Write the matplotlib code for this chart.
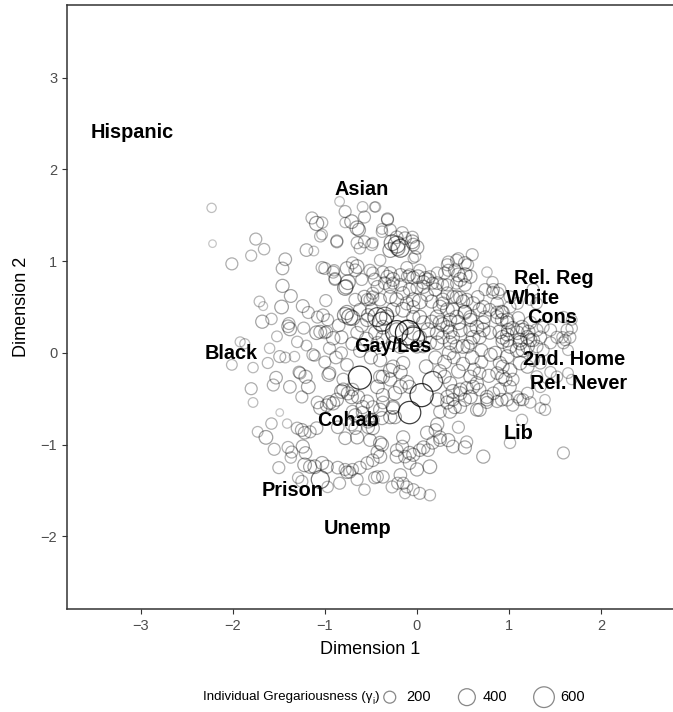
import numpy as np
import matplotlib
matplotlib.use("Agg")
import matplotlib.pyplot as plt

plt.rcParams["font.family"] = ["Liberation Sans", "DejaVu Sans"]

# (dimension 1, dimension 2, individual gregariousness), by region
UPPER_LEFT = [
    (-2.23, 1.58, 120), (-2.22, 1.19, 80), (-1.75, 1.24, 200), (-1.66, 1.13, 180),
    (-1.80, 1.06, 170), (-2.01, 0.97, 200), (-1.14, 1.47, 200), (-1.09, 1.41, 280),
    (-1.05, 1.27, 180), (-0.87, 1.22, 200), (-1.20, 1.12, 220), (-1.12, 1.11, 130),
    (-1.43, 1.02, 220), (-1.46, 0.92, 220), (-1.46, 0.73, 240), (-1.37, 0.62, 230),
    (-1.47, 0.50, 260), (-1.71, 0.56, 160), (-1.67, 0.51, 110), (-1.68, 0.34, 240),
    (-1.58, 0.37, 180), (-1.39, 0.32, 200), (-1.38, 0.26, 250), (-1.40, 0.29, 220),
    (-1.23, 0.27, 200), (-1.24, 0.51, 230), (-1.18, 0.44, 200), (-1.08, 0.39, 200),
    (-1.02, 0.41, 220), (-0.97, 0.36, 200), (-1.05, 0.23, 230), (-1.00, 0.22, 200),
    (-0.99, 0.57, 200), (-1.00, 0.92, 200), (-0.90, 0.90, 180), (-0.89, 0.81, 200),
    (-1.03, 1.42, 180), (-1.03, 1.29, 160), (-0.87, 1.21, 200),
    (-1.92, 0.12, 140), (-1.87, 0.10, 140), (-1.60, 0.05, 150), (-1.52, 0.18, 160),
    (-1.30, 0.12, 180), (-1.20, 0.08, 160),
    (-1.09, 0.22, 260), (-0.98, 0.23, 200), (-0.91, 0.16, 250), (-0.82, 0.17, 230),
]

UPPER_CENTER = [
    (-0.84, 1.65, 130), (-0.59, 1.59, 160), (-0.46, 1.59, 140), (-0.78, 1.54, 200),
    (-0.71, 1.43, 260), (-0.57, 1.48, 200), (-0.78, 1.42, 150), (-0.65, 1.36, 280),
    (-0.63, 1.34, 240), (-0.65, 1.20, 200), (-0.57, 1.21, 200), (-0.49, 1.18, 200),
    (-0.62, 1.14, 180), (-0.38, 1.32, 180), (-0.32, 1.45, 200), (-0.29, 1.34, 200),
    (-0.22, 1.26, 220), (-0.45, 1.59, 150), (-0.32, 1.46, 200), (-0.38, 1.35, 160),
    (-0.27, 1.20, 350), (-0.22, 1.18, 400), (-0.18, 1.14, 450), (-0.29, 1.12, 300),
    (-0.21, 1.14, 300), (-0.13, 1.25, 220), (-0.05, 1.21, 260), (0.00, 1.15, 260),
    (-0.16, 1.31, 200), (-0.05, 1.26, 200), (-0.04, 1.18, 220), (-0.02, 1.05, 180),
    (-0.40, 1.01, 180), (-0.48, 1.20, 160), (-0.04, 1.03, 150),
    (-1.03, 0.93, 200), (-0.91, 0.88, 200), (-0.89, 0.80, 200), (-0.76, 0.92, 250),
    (-0.70, 0.98, 200), (-0.65, 0.94, 260), (-0.67, 0.90, 220),
    (-0.75, 0.77, 300), (-0.78, 0.71, 320), (-0.77, 0.72, 280), (-0.60, 0.80, 200),
    (-0.46, 0.80, 220), (-0.51, 0.90, 200),
    (-0.32, 0.83, 230), (-0.26, 0.80, 260), (-0.29, 0.72, 230), (-0.10, 0.83, 220),
    (0.01, 0.83, 260), (0.07, 0.77, 240), (0.12, 0.80, 220), (0.17, 0.76, 200),
    (0.33, 0.96, 200), (0.30, 0.87, 200),
    (-0.67, 0.58, 220), (-0.57, 0.61, 240), (-0.51, 0.58, 200), (-0.48, 0.61, 200),
    (-0.62, 0.47, 220), (-0.53, 0.41, 240), (-0.49, 0.47, 220), (-0.54, 0.58, 200),
    (-0.78, 0.41, 330), (-0.73, 0.39, 360), (-0.70, 0.38, 300), (-0.76, 0.44, 280),
    (-0.43, 0.39, 500), (-0.54, 0.36, 250), (-0.38, 0.34, 520), (-0.22, 0.23, 700),
    (-0.35, 0.40, 450),
    (-0.11, 0.93, 200), (-0.08, 0.85, 200), (-0.18, 0.85, 220), (-0.29, 0.87, 220),
    (-0.37, 0.88, 200), (-0.48, 0.87, 200),
    (-0.43, 0.72, 220), (-0.35, 0.76, 220), (-0.26, 0.76, 200), (-0.18, 0.74, 220),
    (-0.15, 0.65, 240), (-0.08, 0.69, 220), (-0.29, 0.61, 240), (-0.40, 0.58, 220),
    (-0.48, 0.65, 200), (-0.22, 0.58, 260), (-0.11, 0.54, 240), (-0.04, 0.50, 220),
    (-0.15, 0.47, 300), (-0.26, 0.47, 260), (-0.33, 0.39, 280), (-0.37, 0.28, 260),
    (-0.22, 0.25, 280), (-0.11, 0.28, 300), (-0.04, 0.39, 240), (0.03, 0.39, 260),
    (0.03, 0.90, 200), (-0.04, 0.82, 220), (0.09, 0.82, 200), (0.07, 0.72, 240),
    (0.00, 0.71, 200), (0.11, 0.63, 220), (0.16, 0.56, 240), (0.03, 0.56, 300),
    (-0.04, 0.58, 260),
]

CENTER = [
    (-0.10, 0.22, 850), (-0.04, 0.16, 700), (-0.04, 0.22, 300), (0.03, 0.17, 260),
    (0.07, 0.33, 260), (0.16, 0.34, 240), (0.12, 0.25, 280), (0.22, 0.22, 260),
    (0.28, 0.17, 240), (0.22, 0.11, 260), (0.14, 0.11, 240), (0.07, 0.07, 220),
    (0.00, 0.07, 240), (-0.37, 0.17, 260), (-0.43, 0.11, 220), (-0.26, 0.11, 240),
    (-0.18, 0.07, 260),
    (0.22, 0.87, 200), (0.14, 0.83, 200), (0.22, 0.76, 220), (0.20, 0.69, 240),
    (0.28, 0.74, 200), (0.33, 0.65, 220), (0.28, 0.58, 240), (0.25, 0.50, 260),
    (0.33, 0.47, 260), (0.39, 0.47, 240), (0.22, 0.39, 280), (0.25, 0.33, 260),
    (0.33, 0.28, 240), (0.36, 0.23, 260),
    (0.43, 0.61, 220), (0.50, 0.56, 240), (0.52, 0.44, 260), (0.58, 0.39, 240),
    (0.45, 0.33, 280), (0.47, 0.25, 260), (0.39, 0.17, 240), (0.36, 0.11, 260),
    (0.43, 0.07, 240), (0.50, 0.07, 260), (0.55, 0.07, 240),
    (-0.95, 0.05, 200), (-0.88, -0.05, 220), (-1.00, -0.10, 200), (-0.70, 0.10, 240),
    (-0.62, 0.02, 220), (-0.55, 0.15, 260), (-0.50, -0.05, 240), (-0.65, 0.22, 220),
    (-0.85, 0.30, 220), (-0.60, 0.30, 240), (-0.45, 0.22, 260),
    (0.20, -0.05, 240), (0.30, -0.10, 260), (0.40, -0.05, 220), (0.50, -0.12, 240),
    (0.60, -0.05, 260), (0.70, -0.10, 220), (0.80, -0.02, 240), (0.10, -0.15, 260),
    (0.25, -0.20, 240), (0.45, -0.20, 260), (0.62, -0.18, 220), (0.78, -0.25, 240),
    (0.35, 0.00, 260), (0.70, 0.03, 220), (0.85, 0.00, 240),
]

RIGHT = [
    (0.60, 1.07, 200), (0.52, 0.98, 220), (0.43, 1.01, 200), (0.34, 0.99, 200),
    (0.45, 1.03, 180), (0.55, 0.96, 200), (0.41, 0.90, 220), (0.34, 0.90, 200),
    (0.45, 0.85, 260), (0.52, 0.85, 280), (0.58, 0.83, 240), (0.47, 0.80, 260),
    (0.43, 0.76, 200), (0.33, 0.74, 200), (0.52, 0.74, 220),
    (0.76, 0.88, 150), (0.82, 0.77, 180), (0.74, 0.69, 200), (0.83, 0.69, 200),
    (0.90, 0.69, 200), (0.82, 0.66, 200), (0.88, 0.65, 200),
    (0.66, 0.61, 220), (0.61, 0.54, 240), (0.54, 0.58, 220), (0.47, 0.60, 240),
    (0.39, 0.61, 220), (0.28, 0.54, 220),
    (0.72, 0.50, 240), (0.79, 0.47, 220), (0.87, 0.39, 240), (0.92, 0.45, 220),
    (0.98, 0.36, 240),
    (0.52, 0.45, 240), (0.43, 0.39, 260), (0.36, 0.36, 240), (0.28, 0.31, 260),
    (0.58, 0.36, 240), (0.65, 0.28, 260), (0.72, 0.25, 260), (0.79, 0.22, 240),
    (0.90, 0.23, 260), (0.98, 0.20, 240), (1.04, 0.27, 240), (1.14, 0.28, 260),
    (1.21, 0.23, 240),
    (1.01, 0.61, 200), (1.09, 0.54, 200), (1.01, 0.50, 200), (1.26, 0.69, 200),
    (1.23, 0.58, 180), (1.30, 0.54, 180),
    (0.87, 0.54, 220), (0.87, 0.44, 220), (0.93, 0.44, 240), (0.92, 0.36, 220),
    (0.98, 0.33, 240), (0.99, 0.25, 240), (0.93, 0.17, 260), (0.98, 0.14, 260),
    (0.68, 0.47, 240), (0.74, 0.39, 220), (0.72, 0.33, 240), (0.58, 0.25, 240),
    (0.61, 0.17, 260), (0.68, 0.17, 240), (0.58, 0.11, 240),
    (1.10, 0.38, 220), (1.09, 0.22, 260), (1.12, 0.11, 280), (1.20, 0.07, 260),
    (1.23, 0.33, 220), (1.30, 0.25, 220), (1.37, 0.28, 200), (1.15, 0.25, 240),
    (1.20, 0.17, 260), (1.26, 0.14, 240),
    (1.45, 0.25, 200), (1.52, 0.17, 200), (1.63, 0.25, 200), (1.66, 0.17, 200),
    (1.59, 0.11, 200), (1.59, 0.39, 180), (1.68, 0.36, 160), (1.68, 0.27, 180),
    (1.64, 0.03, 160),
    (0.93, 0.12, 240), (1.01, 0.07, 260), (1.09, 0.03, 280), (1.15, 0.03, 260),
    (1.12, 0.14, 260), (1.23, 0.14, 240), (1.34, 0.17, 220), (1.30, 0.07, 220),
    (1.37, 0.03, 200), (1.45, 0.11, 200), (1.58, 0.17, 180), (1.61, 0.14, 180),
    (1.12, -0.11, 260), (1.20, -0.15, 240), (1.26, -0.08, 220), (1.34, -0.11, 200),
    (1.45, -0.21, 180), (1.52, -0.26, 180), (1.64, -0.22, 160), (1.68, -0.29, 150),
    (0.93, -0.15, 240), (0.87, -0.22, 220), (0.96, -0.29, 240), (1.01, -0.37, 220),
    (0.90, -0.40, 240), (0.83, -0.44, 220), (0.76, -0.48, 240), (0.68, -0.40, 220),
    (0.61, -0.37, 240), (0.58, -0.48, 260), (0.47, -0.44, 240), (0.39, -0.51, 220),
    (0.33, -0.48, 240), (0.47, -0.59, 220), (0.65, -0.62, 220), (0.76, -0.54, 200),
    (0.98, -0.51, 220), (1.04, -0.57, 200), (1.12, -0.51, 200), (1.23, -0.54, 180),
    (1.20, -0.44, 200), (1.34, -0.60, 160), (1.39, -0.51, 150), (1.34, -0.37, 180),
    (1.30, -0.26, 200),
    (0.93, -0.26, 240), (1.01, -0.19, 260), (1.04, -0.29, 220), (0.90, -0.11, 240),
    (0.98, -0.04, 260), (1.09, -0.48, 200), (1.15, -0.51, 200),
]

LOWER = [
    (-0.15, -0.11, 240), (-0.29, -0.19, 260), (-0.40, -0.26, 240), (-0.43, -0.37, 260),
    (-0.29, -0.29, 240), (-0.18, -0.37, 260),
    (0.17, -0.31, 550), (0.05, -0.46, 750), (-0.08, -0.65, 700),
    (-0.37, -0.46, 240), (-0.24, -0.44, 260), (-0.26, -0.59, 260), (-0.29, -0.70, 240),
    (-0.40, -0.62, 240), (-0.48, -0.59, 220), (-0.48, -0.73, 220),
    (0.22, -0.51, 260), (0.33, -0.54, 240), (0.25, -0.64, 220), (0.36, -0.64, 240),
    (0.41, -0.59, 240),
    (0.47, -0.40, 240), (0.54, -0.38, 220), (0.52, -0.51, 240), (0.39, -0.42, 260),
    (0.36, -0.33, 240), (0.30, -0.26, 240),
    (0.58, -0.26, 240), (0.68, -0.22, 220), (0.65, -0.33, 240), (0.76, -0.51, 220),
    (0.87, -0.53, 200), (0.92, -0.51, 220), (0.68, -0.62, 240),
    (1.14, -0.73, 180), (0.45, -0.81, 200), (0.22, -0.78, 240), (0.20, -0.84, 220),
    (0.11, -0.87, 240), (0.25, -0.95, 220), (0.34, -0.95, 240), (0.39, -1.02, 220),
    (0.52, -1.03, 240), (0.54, -0.97, 200),
    (0.72, -1.13, 240), (1.01, -0.98, 180), (1.39, -0.62, 180), (1.59, -1.09, 200),
    (-0.15, -0.92, 240), (-0.22, -1.06, 220), (-0.08, -1.09, 240), (0.03, -1.06, 220),
    (0.07, -1.03, 240), (0.14, -1.24, 260), (0.00, -1.27, 240), (-0.08, -1.20, 220),
    (-0.22, -1.13, 240), (-0.48, -1.17, 220), (-0.40, -1.13, 240),
    (-0.43, -1.35, 200), (-0.37, -1.35, 220), (-0.27, -1.46, 200), (-0.18, -1.33, 220),
    (-0.15, -1.42, 200), (-0.13, -1.53, 160), (-0.04, -1.49, 200), (0.14, -1.55, 180),
    (-0.51, -0.95, 220), (-0.40, -0.98, 240),
    (-0.38, -1.00, 240), (-0.43, -1.08, 220), (-0.13, -1.13, 220), (-0.04, -1.11, 240),
    (-0.16, -1.02, 220), (0.12, -1.06, 220), (0.17, -0.98, 220), (0.25, -0.92, 220),
    (0.03, -1.53, 200), (-0.11, -1.46, 200), (-0.21, -1.42, 200),
    (-0.11, -0.32, 260), (-0.08, -0.37, 240), (-0.26, -0.15, 240), (-0.18, -0.21, 260),
    (-0.40, -0.08, 240), (-0.37, -0.26, 240),
    (-0.26, -0.60, 220), (-0.24, -0.70, 240), (-0.37, -0.54, 220), (-0.38, -0.71, 240),
    (-0.54, -0.53, 240), (-0.59, -0.65, 220), (-0.67, -0.68, 240), (-0.51, -0.73, 220),
    (-0.53, -0.81, 220), (-0.48, -0.82, 240),
]

LOWER_LEFT = [
    (-2.01, -0.13, 160), (-1.78, -0.16, 150), (-1.62, -0.11, 170), (-1.49, -0.04, 200),
    (-1.43, -0.05, 160), (-1.33, -0.04, 150), (-1.11, -0.03, 170), (-1.13, -0.02, 200),
    (-1.80, -0.39, 200), (-1.78, -0.54, 130), (-1.53, -0.27, 220), (-1.56, -0.35, 200),
    (-1.38, -0.37, 220), (-1.28, -0.21, 200), (-1.21, -0.26, 240), (-1.18, -0.37, 260),
    (-1.25, -0.48, 200), (-1.49, -0.65, 80), (-1.08, -0.54, 220), (-1.05, -0.60, 240),
    (-0.95, -0.54, 260), (-0.96, -0.24, 240), (-0.80, -0.29, 220), (-0.82, -0.42, 260),
    (-0.75, -0.44, 240), (-0.71, -0.48, 260), (-0.87, -0.51, 240), (-0.70, -0.64, 220),
    (-0.59, -0.59, 240),
    (-0.62, -0.27, 750), (-0.95, -0.22, 220), (-1.27, -0.22, 200), (-0.98, -0.57, 220),
    (-0.91, -0.55, 240), (-0.80, -0.40, 240), (-0.70, -0.40, 220), (-0.64, -0.48, 240),
    (-0.76, -0.13, 220), (-0.82, 0.00, 200),
    (-1.58, -0.77, 180), (-1.41, -0.77, 120), (-1.73, -0.86, 160), (-1.64, -0.92, 260),
    (-1.55, -1.05, 200), (-1.25, -0.84, 230), (-1.22, -0.87, 220), (-1.09, -0.82, 220),
    (-0.86, -0.81, 220), (-0.67, -0.82, 220), (-0.53, -0.75, 220), (-1.30, -0.82, 200),
    (-1.16, -0.86, 200), (-0.71, -0.78, 220), (-0.65, -0.92, 240), (-0.78, -0.93, 220),
    (-1.40, -1.03, 200), (-1.36, -1.08, 200), (-1.37, -1.14, 180), (-1.50, -1.25, 200),
    (-1.24, -1.02, 240), (-1.21, -1.09, 220),
    (-1.22, -1.22, 260), (-1.16, -1.24, 240), (-1.11, -1.24, 260), (-1.03, -1.20, 240),
    (-0.98, -1.24, 240),
    (-1.29, -1.36, 180), (-1.25, -1.40, 200), (-1.05, -1.38, 450), (-0.97, -1.46, 180),
    (-0.76, -1.30, 220), (-0.70, -1.27, 200), (-0.57, -1.49, 180), (-0.46, -1.36, 200),
    (-0.54, -1.20, 220), (-0.86, -1.25, 220), (-0.78, -1.27, 200), (-0.73, -1.30, 200),
    (-0.62, -1.25, 220), (-0.84, -1.42, 200), (-0.65, -1.38, 200),
]

LABELS = ["Hispanic", "Asian", "Rel. Reg", "White", "Cons", "Black", "Gay/Les",
          "2nd. Home", "Rel. Never", "Lib", "Cohab", "Prison", "Unemp"]
LABEL_X = [-3.09, -0.60, 1.49, 1.26, 1.47, -2.02, -0.26, 1.71, 1.75, 1.10, -0.75, -1.35, -0.64]
LABEL_Y = [2.40, 1.78, 0.81, 0.59, 0.39, -0.01, 0.07, -0.07, -0.33, -0.88, -0.74, -1.50, -1.91]

LEGEND_VALUES = [200, 400, 600]
X_TICKS = [-3, -2, -1, 0, 1, 2]
Y_TICKS = [-2, -1, 0, 1, 2, 3]


def marker_area(g):
    # area of the marker grows with gregariousness (ggplot-like scale_size)
    return 0.37 * np.asarray(g, dtype=float)


def edge_colours(g):
    g = np.asarray(g, dtype=float)
    alpha = np.clip(0.28 + 0.55 * (g - 150) / 650, 0.22, 0.85)
    rgba = np.zeros((len(g), 4))
    rgba[:, 3] = alpha
    return rgba


def minus(t):
    return f"{t}".replace("-", "\u2212")


def legend_title(fig, x0, yc, size):
    # "Individual Gregariousness (γ_i)" with a small subscript i
    renderer = fig.canvas.get_renderer()
    main = fig.text(x0, yc, "Individual Gregariousness (\u03b3", ha="left",
                    va="center", fontsize=size)
    x1 = main.get_window_extent(renderer).x1 / fig.bbox.width
    sub = fig.text(x1, yc - 4 / 712, "i", ha="left", va="center",
                   fontsize=size * 0.7)
    x2 = sub.get_window_extent(renderer).x1 / fig.bbox.width
    fig.text(x2, yc, ")", ha="left", va="center", fontsize=size)


def main():
    pts = np.array(UPPER_LEFT + UPPER_CENTER + CENTER + RIGHT + LOWER + LOWER_LEFT)
    x, y, g = pts[:, 0], pts[:, 1], pts[:, 2]

    fig = plt.figure(figsize=(6.73, 7.12), dpi=100)
    ax = fig.add_axes([67 / 673, 1 - 609 / 712, 606 / 673, 604 / 712])

    ax.scatter(x, y, s=marker_area(g), facecolors="none",
               edgecolors=edge_colours(g), linewidths=0.9)

    for lab, lx, ly in zip(LABELS, LABEL_X, LABEL_Y):
        ax.text(lx, ly, lab, ha="center", va="center", fontsize=14.3,
                fontweight="bold", color="black")

    ax.set_xlim(-3.80, 2.78)
    ax.set_ylim(-2.79, 3.79)
    ax.set_xticks(X_TICKS)
    ax.set_yticks(Y_TICKS)
    ax.set_xticklabels([minus(t) for t in X_TICKS])
    ax.set_yticklabels([minus(t) for t in Y_TICKS])
    ax.tick_params(colors="#333333", labelcolor="#4d4d4d", labelsize=10.5,
                   length=3.5, width=0.8)

    for side in ("left", "bottom", "top"):
        ax.spines[side].set_color("#333333")
        ax.spines[side].set_linewidth(1.1)
    ax.spines["right"].set_visible(False)

    ax.set_xlabel("Dimension 1", fontsize=13, labelpad=6)
    ax.set_ylabel("Dimension 2", fontsize=13, labelpad=8)

    # legend along the bottom
    legend_title(fig, 203 / 673, 1 - 697 / 712, 9.6)
    handles = [ax.scatter([], [], s=marker_area(v), facecolors="none",
                          edgecolors="#888888", linewidths=0.9, label=str(v))
               for v in LEGEND_VALUES]
    fig.legend(handles=handles, loc="center left", ncol=3, frameon=False,
               bbox_to_anchor=(381 / 673, 1 - 697 / 712), fontsize=10.5,
               handlelength=1.2, handletextpad=0.5, columnspacing=1.9,
               borderaxespad=0, borderpad=0)

    fig.savefig("out.png", dpi=100)


if __name__ == "__main__":
    main()
